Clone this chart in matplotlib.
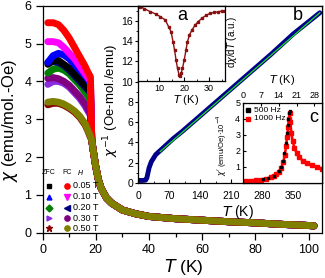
import matplotlib
matplotlib.use("Agg")
import matplotlib.pyplot as plt
from matplotlib.ticker import MultipleLocator

plt.rcParams["font.family"] = ["Liberation Sans", "DejaVu Sans"]
plt.rcParams["mathtext.fontset"] = "dejavusans"

W, H = 325, 278


def px(x, y):
    return x / W, 1 - y / H


def box(x0, y0, x1, y1):
    return [x0 / W, 1 - y1 / H, (x1 - x0) / W, (y1 - y0) / H]


# ---- main panel: chi(T), ZFC / FC ----
T_low = [2, 4, 6, 8, 10, 12, 14, 16, 17, 18]
T_tail = [18.5, 19, 20, 21, 22, 24, 26, 30, 35, 40, 50, 60, 70, 80, 90, 100, 102]
chi_tail = [2.45, 2.2, 1.75, 1.4, 1.18, 0.92, 0.78, 0.6, 0.5, 0.43, 0.37, 0.33,
            0.29, 0.26, 0.22, 0.19, 0.18]

fields = ["0.05 T", "0.10 T", "0.20 T", "0.30 T", "0.50 T"]
zfc_low = {
    "0.05 T": [4.45, 4.55, 4.55, 4.45, 4.35, 4.2, 4.05, 3.9, 3.82, 3.75],
    "0.10 T": [4.5, 4.68, 4.74, 4.7, 4.6, 4.45, 4.3, 4.15, 4.05, 3.95],
    "0.20 T": [4.22, 4.32, 4.35, 4.3, 4.2, 4.05, 3.9, 3.72, 3.62, 3.5],
    "0.30 T": [3.92, 4.0, 4.0, 3.95, 3.85, 3.7, 3.55, 3.35, 3.22, 3.1],
    "0.50 T": [3.38, 3.42, 3.42, 3.37, 3.29, 3.19, 3.05, 2.85, 2.7, 2.52],
}
fc_low = {
    "0.05 T": [5.55, 5.55, 5.5, 5.35, 5.15, 4.9, 4.65, 4.4, 4.25, 4.12],
    "0.10 T": [5.05, 5.05, 5.02, 4.9, 4.75, 4.6, 4.4, 4.2, 4.1, 4.0],
    "0.20 T": [4.5, 4.52, 4.5, 4.42, 4.3, 4.15, 4.0, 3.85, 3.78, 3.7],
    "0.30 T": [4.08, 4.1, 4.07, 4.0, 3.9, 3.75, 3.6, 3.4, 3.28, 3.15],
    "0.50 T": [3.45, 3.47, 3.45, 3.4, 3.32, 3.22, 3.08, 2.88, 2.72, 2.55],
}
zfc_style = {"0.05 T": ("s", "#000000"), "0.10 T": ("^", "#0000FF"),
             "0.20 T": ("D", "#008000"), "0.30 T": (">", "#8A2BE2"),
             "0.50 T": ("*", "#8B0000")}
fc_style = {"0.05 T": ("o", "#FF0000"), "0.10 T": ("v", "#FF00FF"),
            "0.20 T": ("<", "#000080"), "0.30 T": ("o", "#800080"),
            "0.50 T": ("o", "#808000")}

# ---- inset a: dchi/dT ----
T_a = [2.4, 4, 6.4, 8.5, 10.4, 12.4, 13.7, 14.7, 15.5, 16.1, 16.7, 17.3, 17.9,
       18.4, 18.8, 19.3, 20, 20.7, 21.3, 22.1, 23.1, 24.4, 25.7, 27.1, 28.7,
       30.4, 32, 33.7, 35, 36.4]
dchi_a = [-0.013, -0.04, -0.08, -0.11, -0.146, -0.19, -0.279, -0.345, -0.478,
          -0.588, -0.721, -0.831, -0.92, -0.934, -0.89, -0.831, -0.721, -0.588,
          -0.478, -0.389, -0.323, -0.256, -0.21, -0.167, -0.13, -0.101, -0.09,
          -0.08, -0.072, -0.066]

# ---- inset b: inverse susceptibility ----
T_b = [2, 10, 17, 20, 22, 25, 30, 40, 50, 60, 80, 100, 150, 200, 250, 300,
       350, 410]
invchi_b = [0.25, 0.25, 0.28, 0.5, 0.9, 1.5, 2.1, 2.8, 3.2, 3.6, 4.4, 5.1, 7.0,
            8.9, 10.8, 12.7, 14.7, 16.8]
T_fit = [50, 410]
invchi_fit = [3.1, 16.8]

# ---- inset c: ac susceptibility ----
T_c = [1, 3, 5, 7, 9, 11, 12, 13, 14, 15, 15.8, 16.4, 16.9, 17.3, 17.7, 18.0,
       18.3, 18.6, 19.0, 19.5, 20.2, 21, 22, 23.5, 25, 27, 29, 31]
chi_1000 = [0.12, 0.15, 0.18, 0.2, 0.25, 0.35, 0.45, 0.55, 0.7, 0.95, 1.3,
            1.75, 2.3, 2.9, 3.5, 4.0, 4.4, 3.8, 3.1, 2.6, 2.2, 1.9, 1.6, 1.4,
            1.25, 1.1, 1.0, 0.9]
T_500 = [8, 10, 12, 14, 15, 15.6, 16.2, 16.7, 17.1, 17.5, 17.8, 18.1, 18.3]
chi_500 = [0.25, 0.32, 0.45, 0.75, 1.0, 1.4, 1.9, 2.5, 3.1, 3.6, 4.0, 4.35, 4.5]

fig = plt.figure(figsize=(W / 100, H / 100), dpi=100, facecolor="white")

ax = fig.add_axes(box(42.5, 5.7, 322, 232.7))
order = [("zfc", "0.30 T"), ("fc", "0.30 T"), ("zfc", "0.20 T"),
         ("fc", "0.20 T"), ("zfc", "0.05 T"), ("zfc", "0.10 T"),
         ("fc", "0.10 T"), ("fc", "0.05 T"), ("zfc", "0.50 T"),
         ("fc", "0.50 T")]
for kind, h in order:
    low = zfc_low[h] if kind == "zfc" else fc_low[h]
    col = (zfc_style if kind == "zfc" else fc_style)[h][1]
    ax.plot(T_low + T_tail, low + chi_tail, "-", color=col, lw=5,
            solid_capstyle="round", solid_joinstyle="round")
ax.set_xlim(0, 105)
ax.set_ylim(0, 6)
ax.xaxis.set_major_locator(MultipleLocator(20))
ax.xaxis.set_minor_locator(MultipleLocator(10))
ax.yaxis.set_major_locator(MultipleLocator(1))
ax.tick_params(which="major", direction="out", length=5, width=0.9,
               labelsize=9, pad=3)
ax.tick_params(which="minor", direction="out", length=3, width=0.9)
for s in ax.spines.values():
    s.set_linewidth(0.9)

# legend drawn by hand
lx_z, lx_f, lx_t = 0.023, 0.088, 0.108
rows = [0.207, 0.159, 0.110, 0.063, 0.019]
ax.text(lx_z, 0.263, "ZFC", transform=ax.transAxes, ha="center",
        va="center", fontsize=5)
ax.text(lx_f, 0.263, "FC", transform=ax.transAxes, ha="center",
        va="center", fontsize=5)
ax.text(0.135, 0.263, "$H$", transform=ax.transAxes, ha="center",
        va="center", fontsize=5)
for h, yy in zip(fields, rows):
    m, c = zfc_style[h]
    ax.plot([lx_z], [yy], m, color=c, ms=4.5 if m == "*" else 3.5,
            transform=ax.transAxes, clip_on=False)
    m, c = fc_style[h]
    ax.plot([lx_f], [yy], m, color=c, ms=3.8, transform=ax.transAxes,
            clip_on=False)
    ax.text(lx_t, yy, h, transform=ax.transAxes, ha="left", va="center",
            fontsize=6.5)

fig.text(*px(10, 120), r"$\chi$ (emu/mol.-Oe)", rotation=90, ha="center",
         va="center", fontsize=12)
fig.text(*px(184, 267), r"$T$ (K)", ha="center", va="center", fontsize=12.5)

# inset b
axb = fig.add_axes(box(138, 5.7, 322, 183))
axb.plot(T_b, invchi_b, "-", color="#00008B", lw=3.5,
         solid_capstyle="round")
axb.plot(T_fit, invchi_fit, "-", color="#22DD22", lw=0.9)
axb.set_xlim(0, 415)
axb.set_ylim(0, 17.5)
axb.xaxis.set_major_locator(MultipleLocator(70))
axb.xaxis.set_minor_locator(MultipleLocator(35))
axb.yaxis.set_major_locator(MultipleLocator(2))
axb.yaxis.set_minor_locator(MultipleLocator(1))
axb.tick_params(axis="y", which="major", direction="out", length=2.5,
                labelsize=7.5, pad=1)
axb.tick_params(axis="y", which="minor", direction="out", length=1.5)
axb.tick_params(axis="x", which="major", direction="in", length=3,
                labelsize=7.5, pad=6)
axb.tick_params(axis="x", which="minor", direction="in", length=1.5)
for s in axb.spines.values():
    s.set_linewidth(0.9)
fig.text(*px(111, 100), r"$\chi^{-1}$ (Oe-mol./emu)", rotation=90,
         ha="center", va="center", fontsize=9.5)
fig.text(*px(238, 212), r"$T$ (K)", ha="center", va="center", fontsize=10)
fig.text(*px(298, 15), "b", ha="center", va="center", fontsize=13)

# inset a
axa = fig.add_axes(box(138, 5.7, 225, 81))
axa.plot(T_a, dchi_a, "-", color="#8B1010", lw=1.0, marker="s", ms=1.8,
         mec="#8B1010")
axa.set_xlim(1.4, 36.4)
axa.set_ylim(-1.0, 0.0)
axa.xaxis.set_major_locator(MultipleLocator(10))
axa.xaxis.set_minor_locator(MultipleLocator(5))
axa.set_yticks([])
axa.tick_params(axis="x", which="major", direction="in", length=3,
                labelsize=6.5, pad=2)
axa.tick_params(axis="x", which="minor", direction="in", length=1.5)
for s in axa.spines.values():
    s.set_linewidth(0.9)
fig.text(*px(186, 100), r"$T$ (K)", ha="center", va="center", fontsize=8)
fig.text(*px(232, 42), r"d$\chi$/d$T$ (a.u.)", rotation=90, ha="center",
         va="center", fontsize=7)
fig.text(*px(182, 15), "a", ha="center", va="center", fontsize=13)

# inset c
axc = fig.add_axes(box(243, 103, 322, 183))
axc.plot(T_c, chi_1000, "-", color="#FF0000", lw=1.8)
axc.plot(T_c, chi_1000, "s", color="#FF0000", ms=2.2, mec="#FF0000")
axc.plot(T_500, chi_500, "s", color="black", ms=1.5, mec="black")
axc.set_xlim(0, 31)
axc.set_ylim(0, 5)
axc.xaxis.tick_top()
axc.set_xticks([0, 7, 14, 21, 28])
axc.set_yticks([1, 2, 3, 4, 5])
axc.tick_params(axis="both", direction="in", length=2.5, labelsize=6.5,
                pad=2)
for s in axc.spines.values():
    s.set_linewidth(0.9)
axc.plot([0.06], [0.91], "s", color="black", ms=2.5,
         transform=axc.transAxes)
axc.plot([0.06], [0.80], "s", color="#FF0000", ms=2.5,
         transform=axc.transAxes)
axc.text(0.14, 0.91, "500 Hz", transform=axc.transAxes, va="center",
         fontsize=6)
axc.text(0.14, 0.80, "1000 Hz", transform=axc.transAxes, va="center",
         fontsize=6)
fig.text(*px(282, 80), r"$T$ (K)", ha="center", va="center", fontsize=8)
fig.text(*px(222, 145), r"$\chi'$ (emu/Oe)$\cdot$10$^{-4}$", rotation=90,
         ha="center", va="center", fontsize=5.5)
fig.text(*px(314, 118), "c", ha="center", va="center", fontsize=13)

fig.savefig("out.png", dpi=100, facecolor="white")
